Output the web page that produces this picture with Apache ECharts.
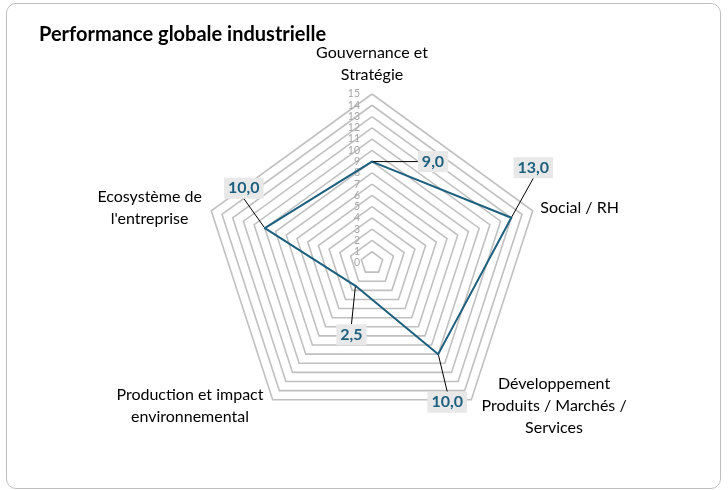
<!DOCTYPE html>
<html>
<head>
<meta charset="utf-8">
<script src="https://cdn.jsdelivr.net/npm/echarts@6/dist/echarts.min.js"></script>
<style>
  html, body { margin: 0; padding: 0; background: #fff; }
  #chart { width: 728px; height: 490px; position: relative; }
  #frame { position: absolute; left: 6px; top: 3px; width: 713px; height: 484px;
           border: 1px solid #bfbfbf; border-radius: 10px; pointer-events: none; }
</style>
</head>
<body>
<div id="chart"></div>
<div id="frame"></div>
<script>
// données du graphique (ordre Excel, sens horaire depuis le haut)
var categories = ['Gouvernance et\nStratégie', 'Social / RH', 'Développement\nProduits / Marchés /\nServices', 'Production et impact\nenvironnemental', "Ecosystème de\nl'entreprise"];
var scores = [9, 13, 10, 2.5, 10];
var axisMin = 0;
var axisMax = 15;

// décalage des étiquettes de valeur (px, relatif au point)
var labelOffsets = [[61, 0], [22, -50], [9, 48], [-4, 49], [-21, -40]];

var cx = 372, cy = 263, radius = 169;
var font = 'Lato, "Open Sans", sans-serif';

// echarts place les axes dans le sens anti-horaire -> on inverse après le premier
var order = [0, 4, 3, 2, 1];

var indicators = order.map(function (i, k) {
  var ind = { name: categories[i], min: axisMin, max: axisMax };
  if (k === 0) {
    ind.axisLabel = { show: true, color: '#a6a6a6', fontSize: 10.5, fontFamily: font, margin: 12 };
  }
  return ind;
});
var values = order.map(function (i) { return scores[i]; });

function nameStyle(name) {
  if (name.indexOf('Social') === 0) return 'l';
  if (name.indexOf('Gouv') === 0) return 'g';
  if (name.indexOf('Dév') === 0) return 'd';
  if (name.indexOf('Prod') === 0) return 'p';
  return 'e';
}

// retrouve l'axe d'une étiquette à partir de l'angle du point
function dimOf(rect) {
  var x = rect.x + rect.width / 2, y = rect.y + rect.height / 2;
  var a = Math.atan2(cy - y, x - cx) * 180 / Math.PI;
  var best = 0, bestD = 999;
  for (var i = 0; i < 5; i++) {
    var ang = 90 - i * 72;
    var d = Math.abs(((a - ang) % 360 + 540) % 360 - 180);
    if (d < bestD) { bestD = d; best = i; }
  }
  return best;
}

var chart = echarts.init(document.getElementById('chart'));
chart.setOption({
  animation: false,
  title: {
    text: 'Performance globale industrielle',
    left: 34, top: 20,
    textStyle: { fontSize: 20, fontWeight: 'bold', color: '#000', fontFamily: font }
  },
  radar: {
    center: [cx, cy],
    radius: radius,
    startAngle: 90,
    splitNumber: 15,
    shape: 'polygon',
    indicator: indicators,
    nameGap: 8,
    axisName: {
      color: '#000',
      fontSize: 16,
      fontFamily: font,
      lineHeight: 22,
      formatter: function (name) {
        var key = nameStyle(name);
        return name.split('\n').map(function (s) { return '{' + key + '|' + s + '}'; }).join('\n');
      },
      rich: {
        l: { fontSize: 16, fontFamily: font, color: '#000', lineHeight: 22 },
        g: { fontSize: 16, fontFamily: font, color: '#000', lineHeight: 22, width: 138, align: 'center' },
        d: { fontSize: 16, fontFamily: font, color: '#000', lineHeight: 22, width: 156, align: 'center' },
        p: { fontSize: 16, fontFamily: font, color: '#000', lineHeight: 22, width: 156, align: 'center' },
        e: { fontSize: 16, fontFamily: font, color: '#000', lineHeight: 22, width: 108, align: 'center' }
      }
    },
    axisLine: { show: false },
    axisTick: { show: false },
    axisLabel: { show: false },
    splitArea: { show: false },
    splitLine: { lineStyle: { color: '#c0c0c0', width: 1.6 } }
  },
  series: [{
    type: 'radar',
    symbol: 'circle',
    symbolSize: 2,
    lineStyle: { color: '#1c5f7e', width: 2 },
    itemStyle: { color: '#1c5f7e' },
    label: {
      show: true,
      position: 'inside',
      color: '#1c5f7e',
      fontWeight: 'bold',
      fontSize: 16,
      fontFamily: font,
      backgroundColor: '#e8e8e8',
      padding: [3, 4, 2, 4],
      formatter: function (p) {
        var v = Array.isArray(p.value) ? p.value[0] : p.value;
        return v.toFixed(1).replace('.', ',');
      }
    },
    labelLine: { show: true, lineStyle: { color: '#000', width: 1 } },
    labelLayout: function (params) {
      var off = labelOffsets[dimOf(params.rect)];
      return { dx: off[0], dy: off[1] };
    },
    data: [{ value: values, name: 'Performance' }]
  }]
});
</script>
</body>
</html>
